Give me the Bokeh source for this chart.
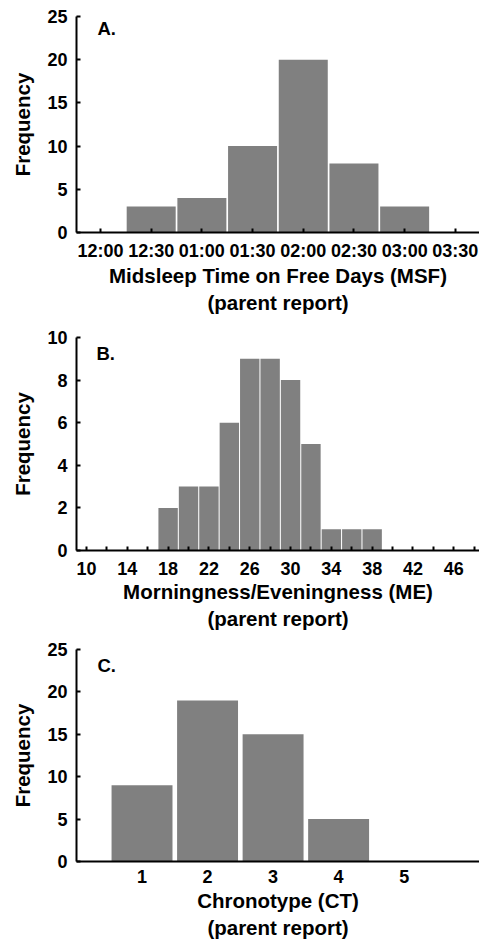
from bokeh.plotting import figure
from bokeh.layouts import column
from bokeh.models import FixedTicker, Range1d, Label
from bokeh.embed import file_html
from bokeh.resources import INLINE

# ---------------- data ----------------
# Panel A: Midsleep time on free days (MSF), parent report
msf_tick_labels = ["12:00", "12:30", "01:00", "01:30", "02:00", "02:30", "03:00", "03:30"]
msf_bins = ["12:30", "01:00", "01:30", "02:00", "02:30", "03:00"]
msf_counts = [3, 4, 10, 20, 8, 3]

# Panel B: Morningness/Eveningness (ME), parent report
me_bins = [18, 20, 22, 24, 26, 28, 30, 32, 34, 36, 38]
me_counts = [2, 3, 3, 6, 9, 9, 8, 5, 1, 1, 1]
me_tick_labels = [10, 14, 18, 22, 26, 30, 34, 38, 42, 46]
me_minor_ticks = [12, 16, 20, 24, 28, 32, 36, 40, 44, 48]

# Panel C: Chronotype (CT), parent report
ct_values = [1, 2, 3, 4, 5]
ct_counts = [9, 19, 15, 5, 0]

FONT = "Liberation Sans"
BAR = "#808080"


def to_minutes(s):
    h, m = s.split(":")
    return (int(h) % 12) * 60 + int(m)


def make_fig(height, xr, yr, b_top, b_bottom):
    p = figure(width=479, height=height, x_range=xr, y_range=yr,
               output_backend="svg", toolbar_location=None,
               min_border_left=76, min_border_right=0,
               min_border_top=b_top, min_border_bottom=b_bottom)
    p.grid.grid_line_color = None
    p.outline_line_color = None
    p.background_fill_color = "white"
    p.border_fill_color = "white"
    for ax in p.axis:
        ax.axis_line_width = 2
        ax.axis_line_color = "black"
        ax.major_tick_in = 4
        ax.major_tick_out = 0
        ax.major_tick_line_width = 2
        ax.major_tick_line_color = "black"
        ax.minor_tick_in = 0
        ax.minor_tick_out = 0
        ax.major_label_text_font = FONT
        ax.major_label_text_font_style = "bold"
        ax.major_label_text_font_size = "18px"
        ax.major_label_text_color = "black"
        ax.axis_label_text_font = FONT
        ax.axis_label_text_font_style = "bold"
        ax.axis_label_text_font_size = "20.5px"
        ax.axis_label_text_color = "black"
    p.yaxis.axis_label = "Frequency"
    p.yaxis.major_label_standoff = 9
    p.yaxis.axis_label_standoff = 10
    p.xaxis.major_label_standoff = 8
    p.xaxis.axis_label_standoff = 0
    return p


def panel_label(p, x, y, text):
    p.add_layout(Label(x=x, y=y, text=text, text_font=FONT, text_font_style="bold",
                       text_font_size="18.5px", text_color="black",
                       text_baseline="middle", text_align="left"))


# ---------------- Panel A ----------------
pa = make_fig(318, Range1d(-14.2, 224.3), Range1d(0, 25), 16, 86)
msf_x = [to_minutes(s) for s in msf_bins]
pa.vbar(x=msf_x, top=msf_counts, width=29, bottom=0, fill_color=BAR, line_color=None)
tick_min = [to_minutes(s) for s in msf_tick_labels]
pa.xaxis.ticker = FixedTicker(ticks=tick_min)
pa.xaxis.major_label_overrides = {t: s for t, s in zip(tick_min, msf_tick_labels)}
pa.xaxis.axis_label = "Midsleep Time on Free Days (MSF)\n(parent report)"
pa.yaxis.ticker = FixedTicker(ticks=[0, 5, 10, 15, 20, 25])
panel_label(pa, -1.8, 23.6, "A.")

# ---------------- Panel B ----------------
pb = make_fig(318, Range1d(9.02, 48.52), Range1d(0, 10), 19, 86)
pb.vbar(x=me_bins, top=me_counts, width=1.9, bottom=0, fill_color=BAR, line_color=None)
pb.xaxis.ticker = FixedTicker(ticks=me_tick_labels, minor_ticks=me_minor_ticks)
pb.xaxis.minor_tick_in = 4
pb.xaxis.minor_tick_out = 0
pb.xaxis.minor_tick_line_width = 2
pb.xaxis.minor_tick_line_color = "black"
pb.xaxis.major_label_standoff = 11
pb.xaxis.axis_label_standoff = 2
pb.xaxis.axis_label = "Morningness/Eveningness (ME)\n(parent report)"
pb.yaxis.ticker = FixedTicker(ticks=[0, 2, 4, 6, 8, 10])
panel_label(pb, 10.98, 9.25, "B.")

# ---------------- Panel C ----------------
pc = make_fig(306, Range1d(0, 6.15), Range1d(0, 25), 13, 81)
pc.vbar(x=ct_values, top=ct_counts, width=0.93, bottom=0, fill_color=BAR, line_color=None)
pc.xaxis.ticker = FixedTicker(ticks=ct_values)
pc.xaxis.major_tick_in = 0
pc.xaxis.axis_label_standoff = 3
pc.xaxis.axis_label = "Chronotype (CT)\n(parent report)"
pc.yaxis.ticker = FixedTicker(ticks=[0, 5, 10, 15, 20, 25])
panel_label(pc, 0.32, 23.1, "C.")

layout = column(pa, pb, pc, spacing=0)
open("out.html", "w").write(file_html(layout, INLINE))
